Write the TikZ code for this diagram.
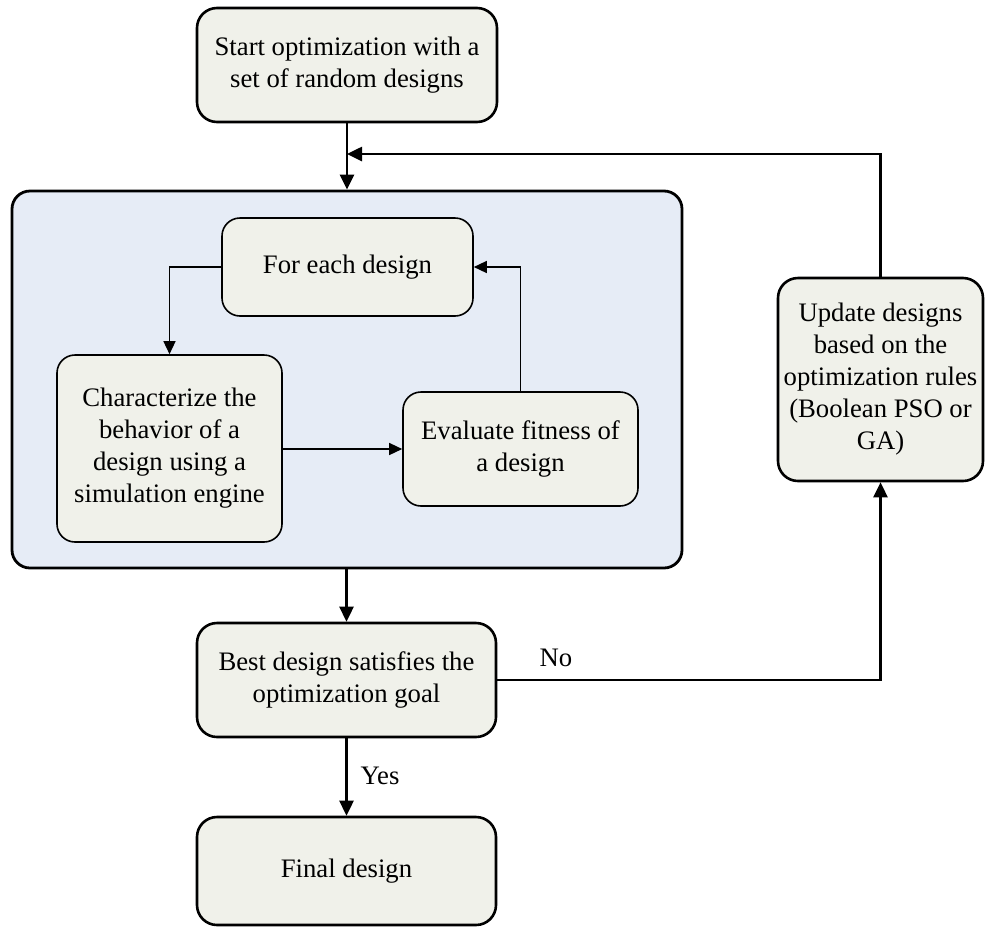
\documentclass[tikz,border=0pt]{standalone}
\usepackage{fontspec}
\setmainfont{Liberation Serif}
\usetikzlibrary{arrows.meta}
\definecolor{boxfill}{HTML}{F0F1EA}
\definecolor{groupfill}{HTML}{E6ECF6}
\begin{document}
\begin{tikzpicture}[x=1pt,y=-1pt,
  txt/.style={font=\fontsize{26.7}{32}\selectfont},
  mainbox/.style={txt,draw,fill=boxfill,rounded corners=20pt,line width=2.6pt,
    align=center,inner sep=0pt},
  innerbox/.style={txt,draw,fill=boxfill,rounded corners=18pt,line width=1.6pt,
    align=center,inner sep=0pt},
  group/.style={draw,fill=groupfill,rounded corners=18pt,line width=2.8pt,inner sep=0pt},
  mainarrow/.style={line width=2.6pt,-{Triangle[length=15pt,width=14pt]}},
  innerarrow/.style={line width=1.4pt,-{Triangle[length=13pt,width=12pt]}},
  lbl/.style={txt,inner sep=0pt}]
\useasboundingbox (0,0) rectangle (987,927);

% outer loop body
\node[group,minimum width=670pt,minimum height=377pt] (loop) at (347,379.5) {};

% boxes
\node[mainbox,minimum width=300pt,minimum height=114pt] (start) at (347,65)
  {Start optimization with a\\set of random designs};
\node[innerbox,minimum width=251pt,minimum height=98pt] (each) at (347.5,267)
  {For each design};
\node[innerbox,minimum width=225pt,minimum height=187pt] (char) at (169.5,448.5)
  {Characterize the\\behavior of a\\design using a\\simulation engine};
\node[innerbox,minimum width=235pt,minimum height=114pt] (eval) at (520.5,449)
  {Evaluate fitness of\\a design};
\node[mainbox,minimum width=299pt,minimum height=114pt] (best) at (346.5,680)
  {Best design satisfies the\\optimization goal};
\node[mainbox,minimum width=299pt,minimum height=108pt] (final) at (346.5,871)
  {Final design};
\node[mainbox,minimum width=205pt,minimum height=203pt] (update) at (880.5,379.5)
  {Update designs\\based on the\\optimization rules\\(Boolean PSO or\\GA)};

% feedback corner above the loop body
\coordinate (join) at (start.south |- 0,154);

% main flow
\draw[mainarrow] (start.south) -- (start.south |- loop.north);
\draw[mainarrow] (update.north) |- (join);
\draw[mainarrow] (loop.south -| best.north) -- (best.north);
\draw[mainarrow] (best.south) -- (final.north);
\draw[mainarrow] (best.east) -| (update.south);

% inner loop
\draw[innerarrow] (each.west) -| (char.north);
\draw[innerarrow] (char.east |- eval.west) -- (eval.west);
\draw[innerarrow] (eval.north) |- (each.east);

% branch labels
\node[lbl] (no) at (556,658) {No};
\node[lbl] (yes) at (380,776) {Yes};
\end{tikzpicture}
\end{document}
